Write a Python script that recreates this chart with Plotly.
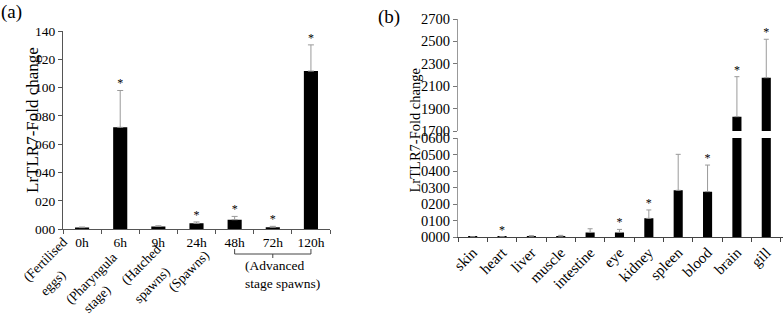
import plotly.graph_objects as go

# ---------------- data ----------------
# panel (a): developmental stages
cats_a = ['0h', '6h', '9h', '24h', '48h', '72h', '120h']
vals_a = [1.2, 72, 2.0, 4.2, 6.8, 1.5, 111.7]
err_a = [0.4, 26, 0.5, 1.0, 2.3, 0.6, 18.5]
sig_a = [False, True, False, True, True, True, True]
yticks_a = [0, 20, 40, 60, 80, 100, 120, 140]
yticktext_a = ['000', '020', '040', '060', '080', '100', '120', '140']
stage_labels = [['(Fertilised', 'eggs)'], ['(Pharyngula', 'stage)'],
                ['(Hatched', 'spawns)'], ['(Spawns)']]
group_label = ['(Advanced', 'stage spawns)']

# panel (b): tissues
cats_b = ['skin', 'heart', 'liver', 'muscle', 'intestine', 'eye', 'kidney',
          'spleen', 'blood', 'brain', 'gill']
vals_b = [0.5, 1, 5, 5, 28, 28, 113, 283, 275, 1828, 2176]
err_b = [0, 0, 3, 5, 22, 18, 51, 218, 161, 357, 343]
sig_b = [False, True, False, False, False, True, True, False, True, True, True]
yticks_b_low = [0, 100, 200, 300, 400, 500, 600]
yticktext_b_low = ['0000', '0100', '0200', '0300', '0400', '0500', '0600']
yticks_b_high = [1700, 1900, 2100, 2300, 2500, 2700]
yticktext_b_high = ['1700', '1900', '2100', '2300', '2500', '2700']

ytitle = 'LrTLR7-Fold change'

# ---------------- layout helpers ----------------
W, H = 784, 317
FONT = 'Liberation Serif'


def px(x):
    return x / W


def py(y):
    return 1 - y / H


fig = go.Figure()

ERR_COL = '#9a9a9a'

# panel (a) bars
fig.add_trace(go.Bar(
    x=cats_a, y=vals_a, xaxis='x', yaxis='y', width=0.37,
    marker=dict(color='black', line=dict(width=0)),
    error_y=dict(type='data', symmetric=False, array=err_a,
                 arrayminus=[0] * len(err_a), color=ERR_COL, thickness=1, width=3),
    showlegend=False))
fig.add_trace(go.Scatter(
    x=[c for c, s in zip(cats_a, sig_a) if s],
    y=[v + e for v, e, s in zip(vals_a, err_a, sig_a) if s],
    mode='text', text=['*'] * sum(sig_a), textposition='top center',
    textfont=dict(family=FONT, size=12, color='black'),
    xaxis='x', yaxis='y', showlegend=False, cliponaxis=False))

# panel (b) bars: lower and upper segments of the broken axis
segments = [('y2', 0, 600), ('y3', 1700, 2700)]
for ya, lo, hi in segments:
    fig.add_trace(go.Bar(
        x=cats_b, y=vals_b, xaxis='x2', yaxis=ya, width=0.31,
        marker=dict(color='black', line=dict(width=0)),
        error_y=dict(type='data', symmetric=False, array=err_b,
                     arrayminus=[0] * len(err_b), color=ERR_COL, thickness=1, width=2.5),
        showlegend=False))
    sx = [c for c, v, e, s in zip(cats_b, vals_b, err_b, sig_b) if s and lo <= v + e <= hi]
    sy = [v + e for v, e, s in zip(vals_b, err_b, sig_b) if s and lo <= v + e <= hi]
    fig.add_trace(go.Scatter(
        x=sx, y=sy, mode='text', text=['*'] * len(sx), textposition='top center',
        textfont=dict(family=FONT, size=12, color='black'),
        xaxis='x2', yaxis=ya, showlegend=False, cliponaxis=False))

axis_common = dict(showgrid=False, zeroline=False, ticks='outside', ticklen=4,
                   tickwidth=1, automargin=False)

fig.update_layout(
    width=W, height=H, margin=dict(l=0, r=0, t=0, b=0),
    paper_bgcolor='white', plot_bgcolor='white',
    font=dict(family=FONT, color='black'),
    xaxis=dict(domain=[px(63), px(330)], anchor='y', type='category',
               tickson='boundaries', showline=True, linecolor='#555',
               tickcolor='#555', tickfont=dict(size=13.5, family=FONT),
               **axis_common),
    yaxis=dict(domain=[py(229.3), py(31)], anchor='x', range=[0, 140],
               tickvals=yticks_a, ticktext=yticktext_a, showline=True,
               linecolor='#555', tickcolor='#555',
               tickfont=dict(size=13.5, family=FONT), **axis_common),
    xaxis2=dict(domain=[px(458), px(782.5)], anchor='y2', type='category',
                tickson='boundaries', showline=True, linecolor='#444',
                tickcolor='#444', tickangle=-45,
                tickfont=dict(size=15, family=FONT), **axis_common),
    yaxis2=dict(domain=[py(237), py(138)], anchor='x2', range=[0, 600],
                tickvals=yticks_b_low, ticktext=yticktext_b_low,
                showline=True, linecolor='#999', tickcolor='#777',
                tickfont=dict(size=14.5, family=FONT), **axis_common),
    yaxis3=dict(domain=[py(131), py(19)], anchor='x2', range=[1700, 2700],
                tickvals=yticks_b_high, ticktext=yticktext_b_high,
                showline=True, linecolor='#999', tickcolor='#777',
                tickfont=dict(size=14.5, family=FONT), **axis_common),
)

ann = []
# panel labels
ann.append(dict(text='(a)', x=px(11.5), y=py(12.5), xref='paper', yref='paper',
                showarrow=False, font=dict(size=19, family=FONT),
                xanchor='center', yanchor='middle'))
ann.append(dict(text='(b)', x=px(389), y=py(17.5), xref='paper', yref='paper',
                showarrow=False, font=dict(size=19, family=FONT),
                xanchor='center', yanchor='middle'))
# y titles
ann.append(dict(text=ytitle, x=px(32), y=py(120), xref='paper', yref='paper',
                textangle=-90, showarrow=False, font=dict(size=17, family=FONT),
                xanchor='center', yanchor='middle'))
ann.append(dict(text=ytitle, x=px(414), y=py(130.5), xref='paper', yref='paper',
                textangle=-90, showarrow=False, font=dict(size=14.5, family=FONT),
                xanchor='center', yanchor='middle'))

# rotated stage labels (each line centred at its measured position)
line_centres = [[(45, 259), (52, 283)], [(91, 278), (96.5, 299.5)],
                [(141, 264), (151.5, 285.5)], [(188, 271)]]
for lines, centres in zip(stage_labels, line_centres):
    for t, (cx, cy) in zip(lines, centres):
        ann.append(dict(text=t, x=px(cx), y=py(cy), xref='paper', yref='paper',
                        textangle=-45, showarrow=False,
                        font=dict(size=13.5, family=FONT),
                        xanchor='center', yanchor='middle'))

# advanced-stage group label
ann.append(dict(text='<br>'.join(group_label), x=px(243), y=py(274.5),
                xref='paper', yref='paper', showarrow=False, align='left',
                font=dict(size=13.5, family=FONT), xanchor='left', yanchor='middle'))
fig.update_layout(annotations=ann)

# bracket under 48h-120h
i0, i1 = cats_a.index('48h'), cats_a.index('120h')
im = cats_a.index('72h')
br = dict(color='#444', width=1)
shapes = [
    dict(type='line', xref='x', yref='paper', x0=i0, x1=i0, y0=py(249), y1=py(254), line=br),
    dict(type='line', xref='x', yref='paper', x0=i0, x1=i1, y0=py(254), y1=py(254), line=br),
    dict(type='line', xref='x', yref='paper', x0=im, x1=im, y0=py(254), y1=py(258), line=br),
    dict(type='line', xref='x', yref='paper', x0=i1, x1=i1, y0=py(249), y1=py(254), line=br),
]
fig.update_layout(shapes=shapes)

fig.write_html('out.html', config={'displayModeBar': False},
               post_script="document.body.style.margin='0';"
                           "document.body.style.overflow='hidden';")
